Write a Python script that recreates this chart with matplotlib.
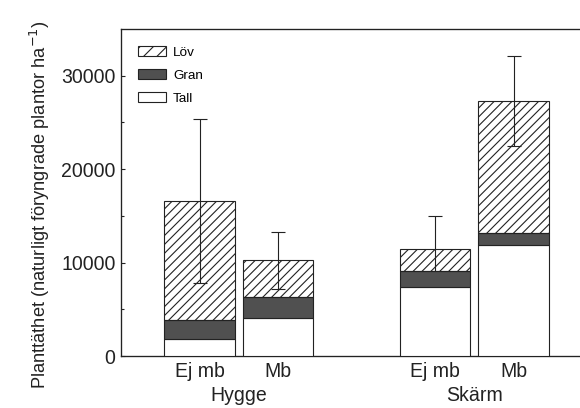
import numpy as np
import matplotlib
matplotlib.use('Agg')
import matplotlib.pyplot as plt
from matplotlib.patches import Patch

plt.rcParams['font.family'] = ['Liberation Sans', 'DejaVu Sans']
plt.rcParams['hatch.linewidth'] = 1.0

# data (plants per ha)
treatments = ['Ej mb', 'Mb', 'Ej mb', 'Mb']
groups = ['Hygge', 'Skärm']
tall = [1770, 4120, 7370, 11900]
gran = [2130, 2150, 1720, 1300]
lov = [12660, 3970, 2400, 14100]
err = [8780, 3030, 3460, 4800]

DPI = 80
def pt(px):
    return px * 72.0 / DPI

ink = '#222222'
x = np.array([1, 2, 4, 5])
total = np.array(tall) + np.array(gran) + np.array(lov)

fig = plt.figure(figsize=(580 / DPI, 408 / DPI), dpi=DPI)
ax = fig.add_axes([121 / 580, 52 / 408, 6 * 78.5 / 580, 327 / 408])

w = 0.9
ax.errorbar(x, total, yerr=err, fmt='none', ecolor=ink, elinewidth=1.0,
            capsize=pt(7), capthick=1.0, zorder=2)
ax.bar(x, tall, w, color='white', edgecolor=ink, linewidth=1.0, zorder=3)
ax.bar(x, gran, w, bottom=tall, color='#505050', edgecolor=ink, linewidth=1.0, zorder=3)
ax.bar(x, lov, w, bottom=np.array(tall) + np.array(gran), facecolor='none',
       edgecolor=ink, hatch='///', linewidth=1.0, zorder=3)

ax.set_xlim(0, 6)
ax.set_ylim(0, 35000)
ax.set_yticks([0, 10000, 20000, 30000])
ax.set_yticks([5000, 15000, 25000], minor=True)
ax.tick_params(axis='y', which='major', direction='in', length=4, width=1,
               labelsize=pt(19.5), pad=5, colors=ink)
ax.tick_params(axis='y', which='minor', direction='in', length=2.5, width=1, colors=ink)
ax.set_xticks(x)
ax.set_xticklabels(treatments)
ax.tick_params(axis='x', length=0, labelsize=pt(19.5), pad=5, colors=ink)
for s in ax.spines.values():
    s.set_color(ink)
    s.set_linewidth(1.2)
ax.spines['right'].set_visible(False)

for gx, g in zip([1.5, 4.5], groups):
    ax.text(gx, -0.12, g, transform=ax.get_xaxis_transform(), ha='center', va='center',
            fontsize=pt(19.5), color=ink)

ax.set_ylabel('Planttäthet (naturligt föryngrade plantor ha$^{-1}$)', fontsize=pt(18.3),
              color=ink)
ax.yaxis.set_label_coords(-0.147, 0.462)

handles = [Patch(facecolor='white', edgecolor=ink, hatch='//', label='Löv'),
           Patch(facecolor='#505050', edgecolor=ink, label='Gran'),
           Patch(facecolor='white', edgecolor=ink, label='Tall')]
ax.legend(handles=handles, loc='upper left', frameon=False, fontsize=pt(13.5),
          handlelength=2.1, handleheight=0.75, labelspacing=0.78, handletextpad=0.5,
          bbox_to_anchor=(0.0, 1.0), borderaxespad=0.85)

fig.savefig('out.png', dpi=DPI)
